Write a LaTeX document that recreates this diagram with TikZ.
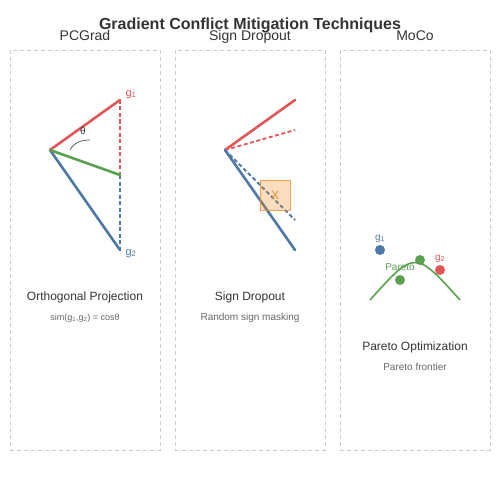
\documentclass[tikz,border=0pt]{standalone}
\usepackage{fontspec}
\setmainfont{Liberation Sans}
\begin{document}
\begin{tikzpicture}[x=1pt,y=-1pt,
  panel/.style={draw=black!20,dash pattern=on 4pt off 3pt,line width=0.8pt},
  ttl/.style={font=\bfseries\fontsize{16}{18}\selectfont,text=black!80,anchor=base},
  sub/.style={font=\fontsize{14}{16}\selectfont,text=black!80,anchor=base},
  captxt/.style={font=\fontsize{12}{14}\selectfont,text=black!80,anchor=base},
  small/.style={font=\fontsize{10}{12}\selectfont,text=black!60,anchor=base},
  vec/.style={line width=2.6pt,line cap=round},
  dvec/.style={line width=1.8pt,dash pattern=on 4pt off 2.5pt},
  dot/.style={circle,inner sep=0pt,minimum size=10pt}]
\definecolor{cred}{RGB}{225,87,89}
\definecolor{cgreen}{RGB}{89,161,79}
\definecolor{cblue}{RGB}{78,121,167}
\definecolor{corange}{RGB}{242,142,43}
\useasboundingbox (0,0) rectangle (500,500);
% panels
\node[panel,draw,minimum width=150pt,minimum height=400pt,anchor=north west,inner sep=0pt] (p1) at (10,50) {};
\node[panel,draw,minimum width=150pt,minimum height=400pt,anchor=north west,inner sep=0pt] (p2) at (175,50) {};
\node[panel,draw,minimum width=150pt,minimum height=400pt,anchor=north west,inner sep=0pt] (p3) at (340,50) {};
% titles
\node[sub] (t1) at (85,41) {PCGrad};
\node[sub] (t2) at (250,41) {Sign Dropout};
\node[sub] (t3) at (415,41) {MoCo};
\node[ttl] (tt) at (250,30) {Gradient Conflict Mitigation Techniques};
% PCGrad
\coordinate (o1) at (50,150);
\coordinate (r1) at (120,100);
\coordinate (m1) at (120,175);
\coordinate (b1) at (120,250);
\draw[cred,dvec] (r1) -- (m1);
\draw[cblue,dvec] (m1) -- (b1);
\draw[cred,vec] (o1) -- (r1);
\draw[cblue,vec] (o1) -- (b1);
\draw[cgreen,vec] (o1) -- (m1);
\coordinate (a1) at (70,150);
\coordinate (a2) at (90,140);
\draw[black!70,line width=0.7pt] (a1) .. controls (74,142) and (82,140) .. (a2);
\node[font=\fontsize{10}{12}\selectfont,text=black!80] (th) at (83,131) {θ};
\node[font=\fontsize{11}{13}\selectfont,text=cred,anchor=base] (lg1) at (131,96) {g\textsubscript{1}};
\node[font=\fontsize{11}{13}\selectfont,text=cblue,anchor=base] (lg2) at (131,255) {g\textsubscript{2}};
\node[captxt] (c1) at (85,300) {Orthogonal Projection};
\node[small,font=\fontsize{9}{11}\selectfont] (s1) at (85,320) {sim(g\textsubscript{1},g\textsubscript{2}) = cosθ};
% Sign Dropout
\coordinate (o2) at (225,150);
\coordinate (r2) at (295,100);
\coordinate (rd2) at (295,130);
\coordinate (b2) at (295,250);
\coordinate (bd2) at (295,220);
\draw[cred,vec] (o2) -- (r2);
\draw[cred,dvec] (o2) -- (rd2);
\draw[cblue,vec] (o2) -- (b2);
\draw[cblue,dvec] (o2) -- (bd2);
\node[draw=corange,fill=corange,fill opacity=0.3,draw opacity=0.8,line width=1pt,minimum size=30pt,inner sep=0pt] (sq) at (275,195) {};
\node[font=\fontsize{12}{14}\selectfont,text=corange] (xx) at (275,195) {X};
\node[captxt] (c2) at (250,300) {Sign Dropout};
\node[small] (s2) at (250,320) {Random sign masking};
% MoCo
\coordinate (f1) at (370,300);
\coordinate (f2) at (460,300);
\draw[cgreen,line width=1.6pt] (f1) .. controls (415,250) .. (f2);
\node[dot,fill=cblue] (d1) at (380,250) {};
\node[dot,fill=cred] (d2) at (440,270) {};
\node[dot,fill=cgreen] (d3) at (420,260) {};
\node[dot,fill=cgreen] (d4) at (400,280) {};
\node[font=\fontsize{10}{12}\selectfont,text=cblue,anchor=base] (lm1) at (380,240) {g\textsubscript{1}};
\node[font=\fontsize{10}{12}\selectfont,text=cred,anchor=base] (lm2) at (440,260) {g\textsubscript{2}};
\node[font=\fontsize{10}{12}\selectfont,text=cgreen,anchor=base] (pl) at (400,270) {Pareto};
\node[captxt] (c3) at (415,350) {Pareto Optimization};
\node[small] (s3) at (415,370) {Pareto frontier};
\end{tikzpicture}
\end{document}
